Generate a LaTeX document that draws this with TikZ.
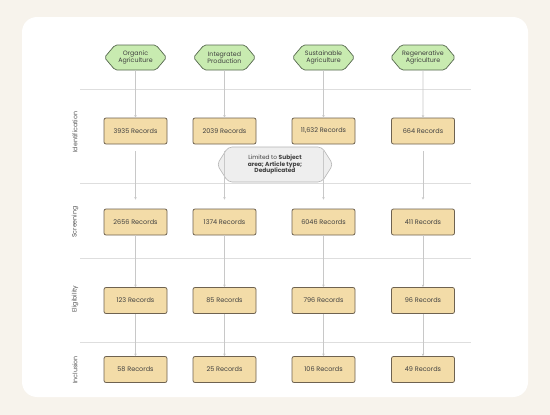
\documentclass[tikz,border=0pt]{standalone}
\usepackage{fontspec}
\setmainfont{Poppins}
\usetikzlibrary{shapes.symbols,arrows.meta,backgrounds}
\definecolor{bgcream}{HTML}{F7F3EC}
\definecolor{boxfill}{HTML}{F3DCA8}
\definecolor{boxdraw}{HTML}{6E6250}
\definecolor{hexfill}{HTML}{C8EBB0}
\definecolor{hexdraw}{HTML}{56684E}
\definecolor{lanecol}{HTML}{DEDEDE}
\definecolor{arrowcol}{HTML}{C8C8C8}
\definecolor{notefill}{HTML}{EEEEEE}
\definecolor{notedraw}{HTML}{B5B5B5}
\definecolor{labelcol}{HTML}{555555}
\begin{document}
\begin{tikzpicture}[x=1pt,y=-1pt,
  recbox/.style={draw=boxdraw, fill=boxfill, rounded corners=2pt, minimum width=63pt, minimum height=26pt, inner sep=1pt, font=\fontsize{6.5}{7.5}\selectfont, text=black!75, line width=0.8pt},
  hexnode/.style={shape=signal, signal to=east and west, signal pointer angle=100, rounded corners=2pt, draw=hexdraw, fill=hexfill, minimum width=62pt, minimum height=25pt, inner xsep=1pt, inner ysep=1pt, align=center, font=\fontsize{6.3}{7}\selectfont, text=black!75, line width=0.7pt},
  notenode/.style={shape=signal, signal to=east and west, signal pointer angle=115, rounded corners=4pt, draw=notedraw, fill=notefill, minimum width=116pt, minimum height=35pt, inner xsep=1pt, inner ysep=1pt, align=center, font=\fontsize{5.9}{6.9}\selectfont, text=black!75, line width=0.6pt},
  lanelabel/.style={rotate=90, font=\fontsize{6.3}{7}\selectfont, text=labelcol},
  lane/.style={draw=lanecol, line width=0.8pt},
  flow/.style={draw=arrowcol, line width=0.6pt, -{Stealth[length=2.5pt,width=2.5pt]}}
]
% hexagons
\node[hexnode] (h1) at (135.5,57.5) {Organic\\Agriculture};
\node[hexnode] (h2) at (224.5,57.5) {Integrated\\Production};
\node[hexnode] (h3) at (323.5,57.5) {Sustainable\\Agriculture};
\node[hexnode] (h4) at (423,57.5) {Regenerative\\Agriculture};
% identification
\node[recbox] (i1) at (135.5,131) {3935 Records};
\node[recbox] (i2) at (224.5,131) {2039 Records};
\node[recbox] (i3) at (323.5,131) {11,632 Records};
\node[recbox] (i4) at (423,131) {664 Records};
% screening
\node[recbox] (s1) at (135.5,222) {2656 Records};
\node[recbox] (s2) at (224.5,222) {1374 Records};
\node[recbox] (s3) at (323.5,222) {6046 Records};
\node[recbox] (s4) at (423,222) {411 Records};
% eligibility
\node[recbox] (e1) at (135.5,300.5) {123 Records};
\node[recbox] (e2) at (224.5,300.5) {85 Records};
\node[recbox] (e3) at (323.5,300.5) {796 Records};
\node[recbox] (e4) at (423,300.5) {96 Records};
% inclusion
\node[recbox] (n1) at (135.5,369.5) {58 Records};
\node[recbox] (n2) at (224.5,369.5) {25 Records};
\node[recbox] (n3) at (323.5,369.5) {106 Records};
\node[recbox] (n4) at (423,369.5) {49 Records};
% note
\node[notenode] (note) at (275,164.5) {Limited to \textbf{Subject}\\\textbf{area; Article type;}\\\textbf{Deduplicated}};
% lane labels
\node[lanelabel] (l1) at (75,132) {Identification};
\node[lanelabel] (l2) at (75,222) {Screening};
\node[lanelabel] (l3) at (75,299) {Eligibility};
\node[lanelabel] (l4) at (75,370) {Inclusion};
% background
\begin{scope}[on background layer]
\fill[bgcream] (0,0) rectangle (550,415);
\fill[white, rounded corners=15pt] (22,17) rectangle (528,397);
\coordinate (la) at (80,89);  \coordinate (lb) at (471,89);
\coordinate (lc) at (80,183); \coordinate (ld) at (471,183);
\coordinate (le) at (80,258); \coordinate (lf) at (471,258);
\coordinate (lg) at (80,342); \coordinate (lh) at (471,342);
\draw[lane] (la) -- (lb);
\draw[lane] (lc) -- (ld);
\draw[lane] (le) -- (lf);
\draw[lane] (lg) -- (lh);
\end{scope}
% flows
\foreach \c in {1,2,3,4}{
  \draw[flow] (h\c) -- (i\c);
  \draw[flow, shorten <=7pt, shorten >=9pt] (i\c) -- (s\c);
  \draw[flow] (s\c) -- (e\c);
  \draw[flow] (e\c) -- (n\c);
}
\end{tikzpicture}
\end{document}
